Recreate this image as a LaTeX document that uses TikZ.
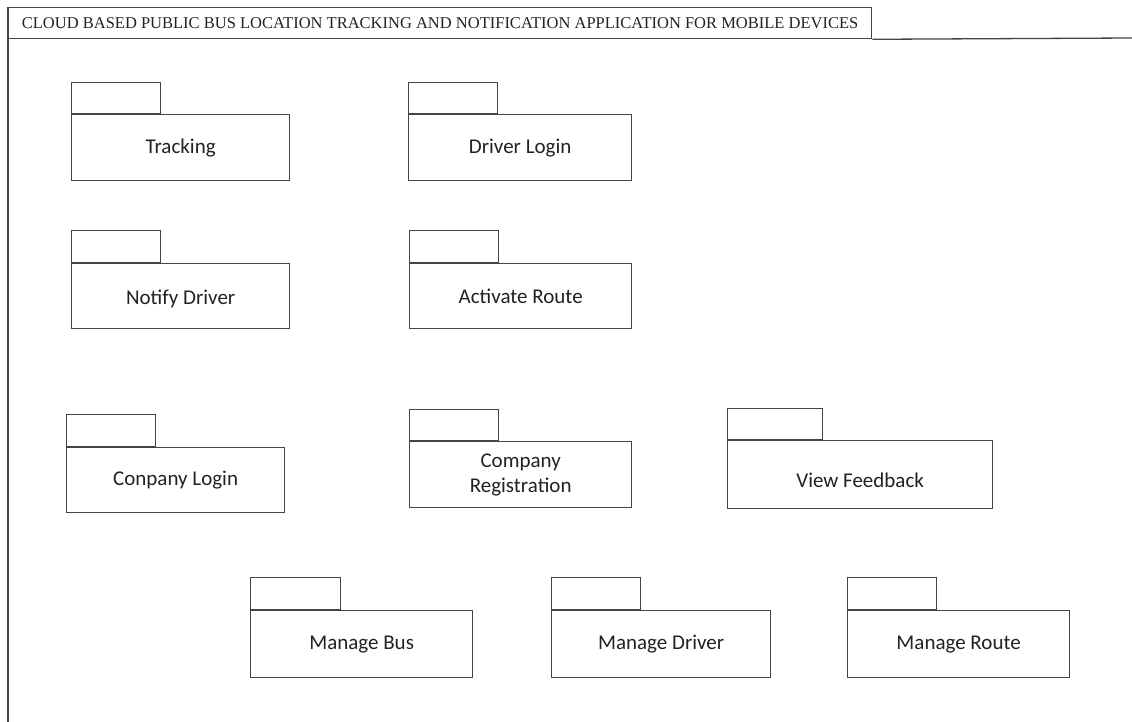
\documentclass[tikz,border=0pt]{standalone}
\usepackage{fontspec}
\setmainfont{Carlito}
\newfontfamily\titlefont{Liberation Serif}
\definecolor{linegray}{HTML}{444444}
\definecolor{inkgray}{HTML}{222222}
\newcommand{\lowered}[2]{\raisebox{-#1}[\height][\depth]{#2}}
\begin{document}
\begin{tikzpicture}[x=1pt,y=-1pt,
  pkgbody/.style={draw=linegray, line width=1.3pt, fill=white, anchor=north west,
    inner sep=0pt, align=center, text=inkgray, font=\fontsize{21}{25}\selectfont},
  pkgtab/.style={draw=linegray, line width=1.3pt, fill=white, anchor=south west,
    inner sep=0pt, minimum width=89pt, minimum height=31pt},
  framebar/.style={draw=linegray, line width=1.3pt}]
\useasboundingbox (0,0) rectangle (1132,722);
% outer frame and title tab
\coordinate (ftop) at (8,7);
\coordinate (fbot) at (8,722);
\coordinate (fright) at (1132,38);
\node[draw=linegray, line width=1.3pt, anchor=north west, minimum width=863pt,
  minimum height=31pt, inner sep=0pt, text=inkgray,
  font=\titlefont\fontsize{16.5}{18}\selectfont] (title) at (ftop)
  {CLOUD BASED PUBLIC BUS LOCATION TRACKING AND NOTIFICATION APPLICATION FOR MOBILE DEVICES};
\draw[framebar] (title.south east) -- (fright);
\draw[framebar] (ftop) -- (fbot);
% packages: body node, then its tab on top
\node[pkgbody, minimum width=218pt, minimum height=66pt] (tracking) at (71,114) {Tracking};
\node[pkgtab] (trackingtab) at (tracking.north west) {};
\node[pkgbody, minimum width=223pt, minimum height=66pt] (driverlogin) at (408,114) {Driver Login};
\node[pkgtab] (driverlogintab) at (driverlogin.north west) {};
\node[pkgbody, minimum width=218pt, minimum height=65pt] (notify) at (71,263) {\lowered{3pt}{Notify Driver}};
\node[pkgtab, minimum height=32pt] (notifytab) at (notify.north west) {};
\node[pkgbody, minimum width=222pt, minimum height=65pt] (activate) at (409,263) {Activate Route};
\node[pkgtab, minimum height=32pt] (activatetab) at (activate.north west) {};
\node[pkgbody, minimum width=218pt, minimum height=65pt] (clogin) at (66,447) {Conpany Login};
\node[pkgtab, minimum height=32pt] (clogintab) at (clogin.north west) {};
\node[pkgbody, minimum width=222pt, minimum height=66pt] (creg) at (409,441) {Company\\[0pt]Registration};
\node[pkgtab] (cregtab) at (creg.north west) {};
\node[pkgbody, minimum width=265pt, minimum height=68pt] (feedback) at (727,440) {\lowered{6pt}{View Feedback}};
\node[pkgtab, minimum width=95pt] (feedbacktab) at (feedback.north west) {};
\node[pkgbody, minimum width=222pt, minimum height=67pt] (mbus) at (250,610) {Manage Bus};
\node[pkgtab, minimum width=90pt, minimum height=32pt] (mbustab) at (mbus.north west) {};
\node[pkgbody, minimum width=219pt, minimum height=67pt] (mdriver) at (551,610) {Manage Driver};
\node[pkgtab, minimum height=32pt] (mdrivertab) at (mdriver.north west) {};
\node[pkgbody, minimum width=222pt, minimum height=67pt] (mroute) at (847,610) {Manage Route};
\node[pkgtab, minimum height=32pt] (mroutetab) at (mroute.north west) {};
\end{tikzpicture}
\end{document}
